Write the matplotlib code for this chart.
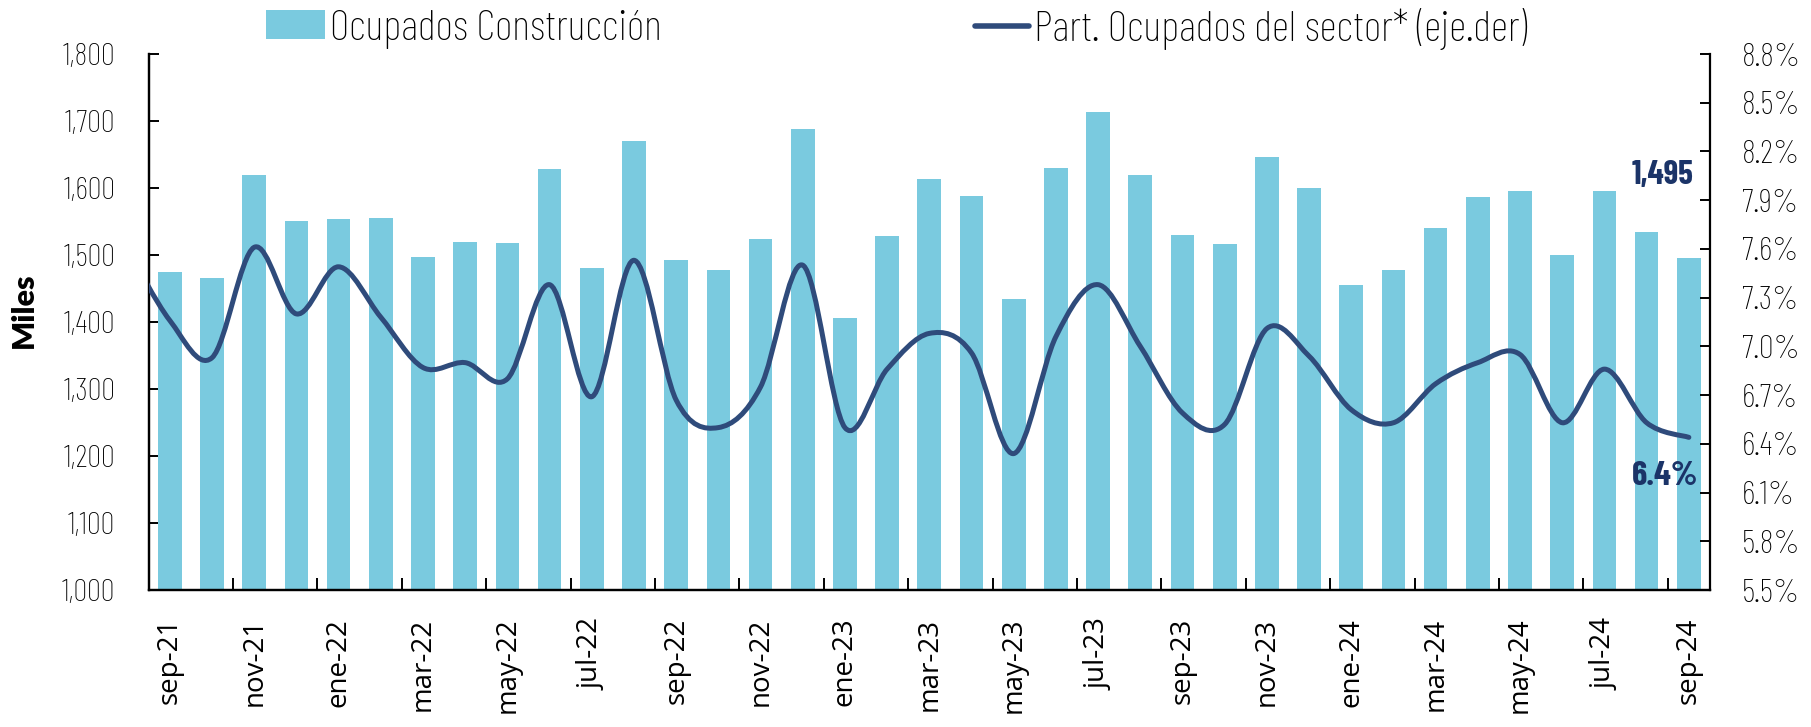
import numpy as np
import matplotlib
matplotlib.use('Agg')
import matplotlib.pyplot as plt
from matplotlib.path import Path
from matplotlib.patches import PathPatch
from matplotlib.lines import Line2D
from matplotlib.patches import Patch

# Ocupados en construcción (miles) y participación en el total (%)
meses = ['sep-21', 'oct-21', 'nov-21', 'dic-21', 'ene-22', 'feb-22', 'mar-22', 'abr-22', 'may-22',
         'jun-22', 'jul-22', 'ago-22', 'sep-22', 'oct-22', 'nov-22', 'dic-22', 'ene-23', 'feb-23',
         'mar-23', 'abr-23', 'may-23', 'jun-23', 'jul-23', 'ago-23', 'sep-23', 'oct-23', 'nov-23',
         'dic-23', 'ene-24', 'feb-24', 'mar-24', 'abr-24', 'may-24', 'jun-24', 'jul-24', 'ago-24',
         'sep-24']
ocupados = [1475, 1466, 1620, 1551, 1554, 1556, 1497, 1519, 1518, 1628, 1480, 1670, 1492,
            1477, 1524, 1688, 1406, 1528, 1614, 1588, 1435, 1630, 1714, 1619, 1530, 1517,
            1646, 1600, 1456, 1478, 1540, 1586, 1596, 1500, 1595, 1535, 1495]
participacion = [7.16, 6.93, 7.61, 7.20, 7.49, 7.18, 6.87, 6.90, 6.80, 7.38, 6.69, 7.53, 6.67,
                 6.50, 6.75, 7.50, 6.50, 6.86, 7.08, 6.96, 6.34, 7.06, 7.38, 7.00, 6.59, 6.52,
                 7.11, 6.94, 6.61, 6.53, 6.77, 6.90, 6.95, 6.53, 6.86, 6.53, 6.44]
participacion_ago21 = 7.60  # mes previo, solo se ve el tramo que entra por el eje

BAR_COLOR = '#7acadf'
LINE_COLOR = '#2f4b7b'
NAVY = '#1b3468'
COND = ['Barlow Condensed', 'DejaVu Sans']

fig = plt.figure(figsize=(18.11, 7.27), dpi=100)
ax = fig.add_axes([0.0821, 0.1884, 0.9442 - 0.0821, 0.9257 - 0.1884])
ax2 = ax.twinx()

x = np.arange(len(meses))
ax.bar(x, ocupados, width=0.56, color=BAR_COLOR, zorder=2)
ax.set_xlim(-0.5, len(meses) - 0.5)
ax.set_ylim(1000, 1800)
ax.set_yticks(np.arange(1000, 1801, 100))
ax.set_yticklabels([f'{v:,.0f}' for v in np.arange(1000, 1801, 100)])

# smooth line (Catmull-Rom -> cubic Bezier, like Excel's smoothed line)
px = np.concatenate([[-1], x]).astype(float)
py = np.array([participacion_ago21] + participacion)
verts = [(px[0], py[0])]
codes = [Path.MOVETO]
n = len(px)
for i in range(n - 1):
    p0 = (px[max(i - 1, 0)], py[max(i - 1, 0)])
    p1 = (px[i], py[i])
    p2 = (px[i + 1], py[i + 1])
    p3 = (px[min(i + 2, n - 1)], py[min(i + 2, n - 1)])
    c1 = (p1[0] + (p2[0] - p0[0]) / 6, p1[1] + (p2[1] - p0[1]) / 6)
    c2 = (p2[0] - (p3[0] - p1[0]) / 6, p2[1] - (p3[1] - p1[1]) / 6)
    verts += [c1, c2, p2]
    codes += [Path.CURVE4] * 3
ax2.add_patch(PathPatch(Path(verts, codes), fill=False, edgecolor=LINE_COLOR, lw=3.6,
                        capstyle='round', joinstyle='round', zorder=3))
ax2.set_ylim(5.5, 8.8)
rticks = np.linspace(5.5, 8.8, 12)
ax2.set_yticks(rticks)
ax2.set_yticklabels([f'{v:.1f}%' for v in rticks])

# x ticks: labels every 2 months, small marks between bars
ax.set_xticks(x[::2])
ax.set_xticklabels(meses[::2], rotation=90, family=['Open Sans', 'DejaVu Sans'], fontsize=20)
ax.set_xticks(np.arange(1.5, len(meses) - 1, 2), minor=True)
ax.tick_params(axis='x', which='major', length=0, pad=20)
ax.tick_params(axis='x', which='minor', direction='in', length=8.5, width=1.4)
ax.tick_params(axis='y', direction='in', length=7, width=1.4, pad=24, labelsize=22.5)
ax2.tick_params(axis='y', direction='in', length=7, width=1.4, pad=23, labelsize=24)
for lab in ax.get_yticklabels() + ax2.get_yticklabels():
    lab.set_family(COND)
    lab.set_fontweight('light')

for a in (ax, ax2):
    a.spines['top'].set_visible(False)
    for s in ('left', 'right', 'bottom'):
        a.spines[s].set_linewidth(1.6)
ax.spines['right'].set_visible(False)

ax.set_ylabel('Miles', family=['Lato', 'DejaVu Sans'], fontweight='heavy', fontsize=22)
ax.yaxis.set_label_coords(-0.071, 0.522)

# valores finales
ax.annotate(f'{ocupados[-1]:,.0f}', xy=(x[-1], ocupados[-1]), xytext=(-19, 60),
            textcoords='offset points', ha='center', va='center', color=NAVY,
            fontsize=24, fontweight='bold', family=COND)
ax2.annotate(f'{participacion[-1]:.1f}%', xy=(x[-1], participacion[-1]), xytext=(-17, -28),
             textcoords='offset points', ha='center', va='center', color=NAVY,
             fontsize=25, fontweight='bold', family=COND)

# legends
leg_font = {'family': COND, 'size': 31, 'weight': 'light'}
leg1 = ax2.legend([Patch(facecolor=BAR_COLOR)], ['Ocupados Construcción'], loc='center left',
                  bbox_to_anchor=(266 / 1811, 0.960), bbox_transform=fig.transFigure,
                  frameon=False, prop=leg_font, borderpad=0, borderaxespad=0,
                  handlelength=1.38, handleheight=0.66, handletextpad=0.1)
ax2.add_artist(leg1)
ax2.legend([Line2D([], [], color=LINE_COLOR, lw=4, solid_capstyle='round')],
           ['Part. Ocupados del sector* (eje.der)'], loc='center left',
           bbox_to_anchor=(975 / 1811, 0.960), bbox_transform=fig.transFigure,
           frameon=False, prop=leg_font, borderpad=0, borderaxespad=0,
           handlelength=1.25, handletextpad=0.13)

fig.savefig('out.png', dpi=100)
